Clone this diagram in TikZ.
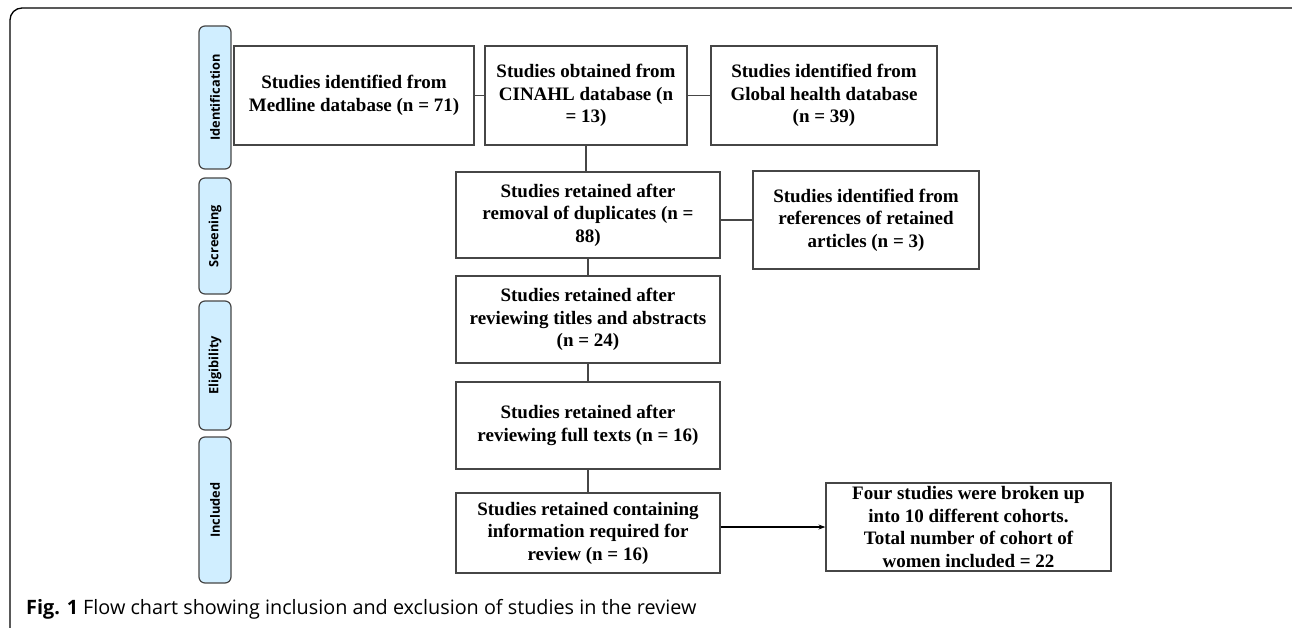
\documentclass[tikz,border=0pt]{standalone}
\usepackage{fontspec}
\setmainfont{Liberation Serif}
\newfontfamily\capfont{Open Sans}
\usetikzlibrary{arrows.meta, positioning}

\definecolor{tabblue}{RGB}{208,238,255}
\definecolor{edgegray}{RGB}{70,70,70}

\begin{document}
\begin{tikzpicture}[x=1pt, y=-1pt,
    box/.style={draw=edgegray, line width=1.2pt, align=center, inner sep=0pt,
      font=\bfseries\fontsize{19}{22.5}\selectfont},
    tab/.style={draw=edgegray, line width=1.2pt, fill=tabblue, rounded corners=6pt,
      minimum height=32pt, rotate=90, inner sep=0pt,
      font=\capfont\bfseries\fontsize{12.8}{14}\selectfont}]
    \useasboundingbox (0,0) rectangle (1292,628);
    \draw [line width=1.3pt, rounded corners=12pt] (10,8) rectangle (1305,645);

    % phases
    \node (ident) [tab, minimum width=143pt] at (215,97.5) {Identification};
    \node (screen) [tab, minimum width=116pt] at (215,236) {Screening};
    \node (elig) [tab, minimum width=129pt] at (215,365.5) {Eligibility};
    \node (incl) [tab, minimum width=146pt] at (215,510) {Included};

    % boxes
    \node (medline) [box, minimum width=240pt, minimum height=99pt] at (354,95.5)
      {Studies identified from\\Medline database (n = 71)};
    \node (cinahl) [box, minimum width=202pt, minimum height=99pt] at (586,95.5)
      {Studies obtained from\\CINAHL database (n\\= 13)};
    \node (global) [box, minimum width=226pt, minimum height=99pt] at (824,95.5)
      {Studies identified from\\Global health database\\(n = 39)};
    \node (dup) [box, minimum width=264pt, minimum height=86pt] at (588,215)
      {Studies retained after\\removal of duplicates (n =\\88)};
    \node (refs) [box, minimum width=226pt, minimum height=98pt] at (866,220)
      {Studies identified from\\references of retained\\articles (n = 3)};
    \node (titles) [box, minimum width=264pt, minimum height=87pt] at (588,319.5)
      {Studies retained after\\reviewing titles and abstracts\\(n = 24)};
    \node (full) [box, minimum width=264pt, minimum height=87pt] at (588,425.5)
      {Studies retained after\\reviewing full texts (n = 16)};
    \node (contain) [box, minimum width=264pt, minimum height=80pt] at (588,533)
      {Studies retained containing\\information required for\\review (n = 16)};
    \node (four) [box, minimum width=285pt, minimum height=88pt] at (968.5,527)
      {Four studies were broken up\\into 10 different cohorts.\\Total number of cohort of\\women included = 22};

    \path [draw=edgegray, line width=1.2pt]
      (medline) edge (cinahl)
      (cinahl) edge (global)
      (cinahl.south) edge (cinahl.south |- dup.north)
      (dup.east |- refs.west) edge (refs.west)
      (dup) edge (titles)
      (titles) edge (full)
      (full) edge (contain);
    \draw [-{Stealth[length=7pt, width=5pt]}, line width=1.2pt]
      (contain.east |- four.west) -- (four.west);

    \node (caption) [anchor=base west, inner sep=0pt,
      font=\capfont\fontsize{19.8}{22}\selectfont] at (26,614)
      {\textbf{Fig. 1} Flow chart showing inclusion and exclusion of studies in the review};
\end{tikzpicture}
\end{document}
